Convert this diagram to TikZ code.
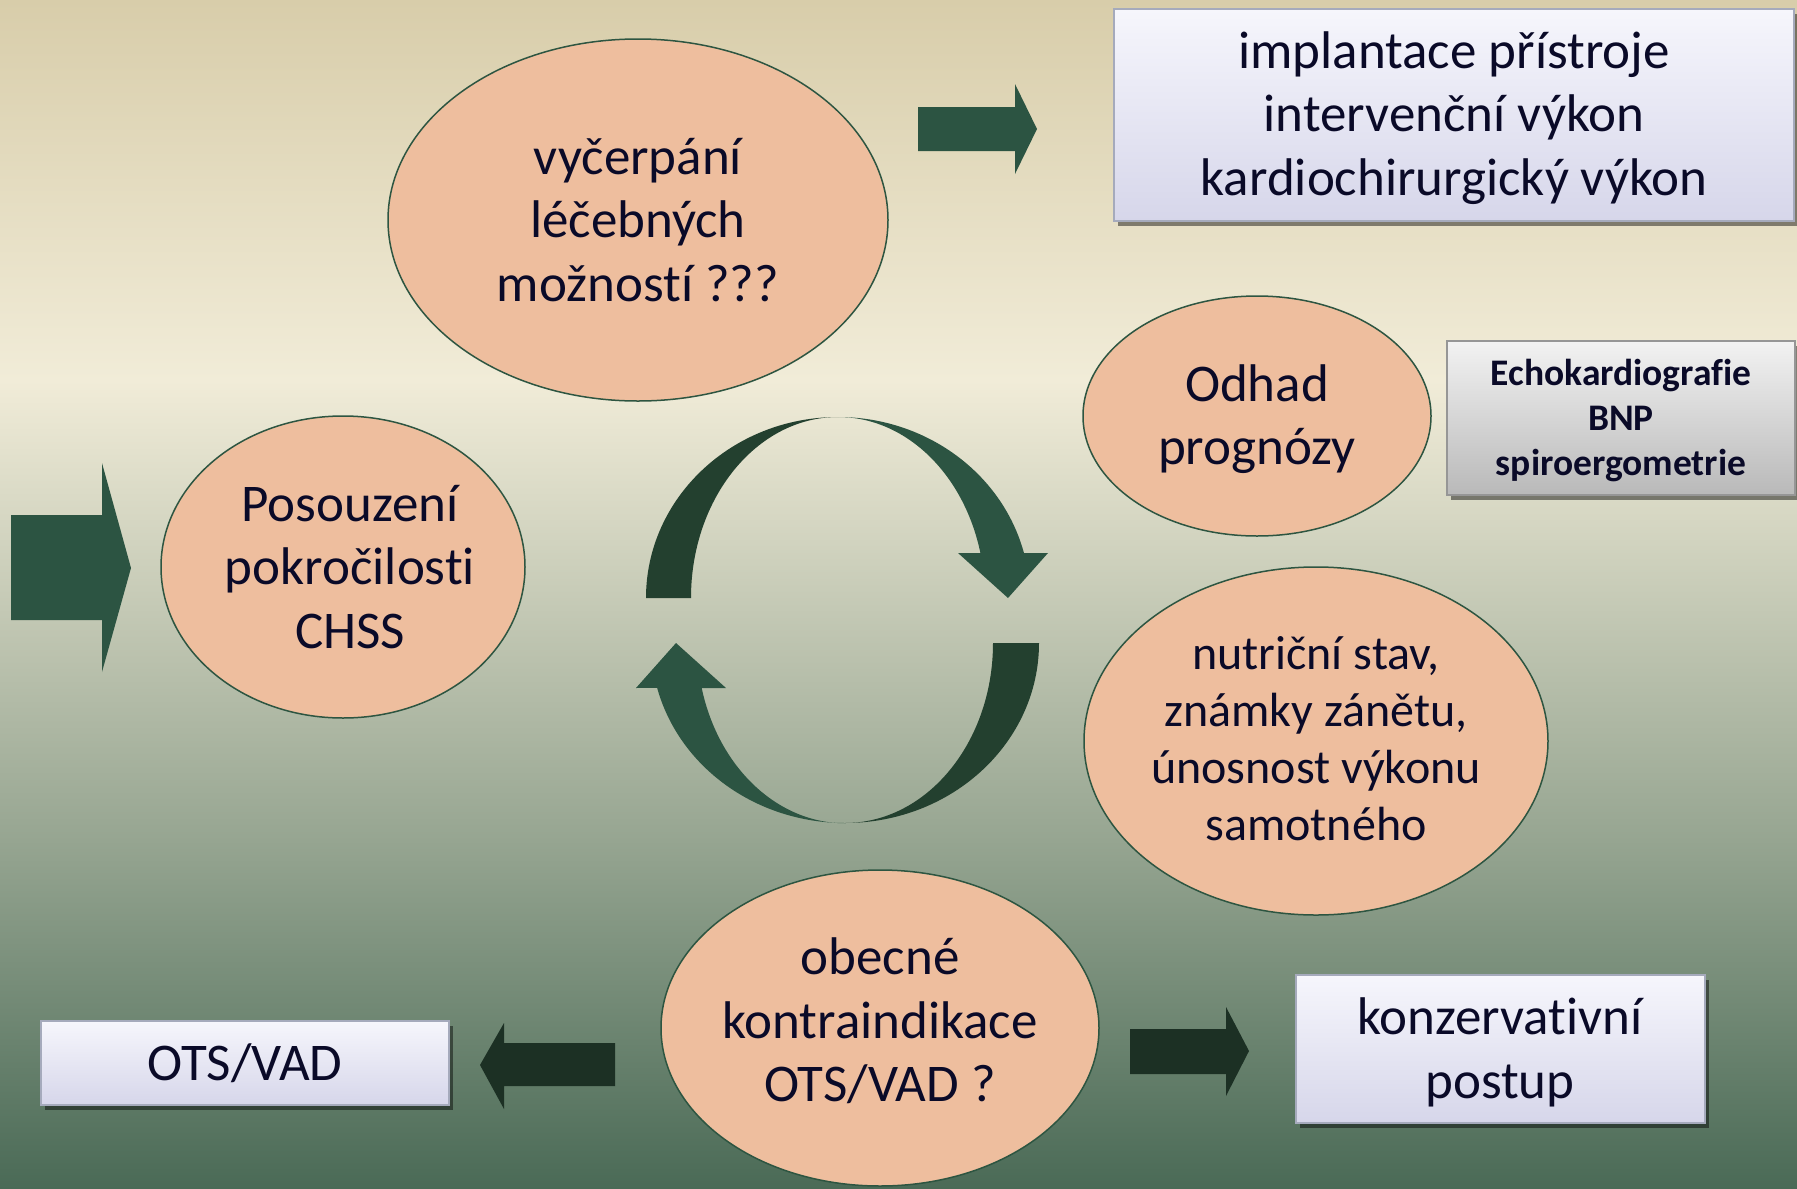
\documentclass[tikz,border=0pt]{standalone}
\usepackage{fontspec}
\setmainfont{Carlito}[Ligatures=CommonOff]
\usetikzlibrary{shapes.geometric,shadows}
\definecolor{bgtan}{RGB}{216,205,170}
\definecolor{bgcream}{RGB}{241,236,216}
\definecolor{bgmid}{RGB}{150,165,145}
\definecolor{bgdark}{RGB}{74,106,86}
\definecolor{peach}{RGB}{238,190,158}
\definecolor{elline}{RGB}{45,85,65}
\definecolor{arrlight}{RGB}{44,84,66}
\definecolor{arrdark}{RGB}{35,64,47}
\definecolor{arrblack}{RGB}{28,48,36}
\definecolor{boxtop}{RGB}{246,246,252}
\definecolor{boxbot}{RGB}{214,214,234}
\definecolor{boxline}{RGB}{165,170,188}
\definecolor{navy}{RGB}{10,10,40}
\definecolor{greytop}{RGB}{242,242,242}
\definecolor{greybot}{RGB}{185,185,185}
\definecolor{greyline}{RGB}{150,150,150}
\newcommand{\shiftv}[2]{\raisebox{#1}[\height][\depth]{\begin{tabular}{@{}c@{}}#2\end{tabular}}}
\begin{document}
\begin{tikzpicture}[x=1pt,y=-1pt,
  bubble/.style={ellipse, draw=elline, line width=1.5pt, fill=peach, inner sep=-60pt,
    align=center, font=\fontsize{53}{63.5}\selectfont, text=navy},
  panel/.style={rectangle, draw=boxline, line width=2pt, top color=boxtop, bottom color=boxbot,
    inner sep=0pt, align=center, font=\fontsize{53}{63.5}\selectfont, text=navy,
    drop shadow={shadow xshift=4pt, shadow yshift=-5pt, opacity=0.45, fill=black}},
  greypanel/.style={panel, draw=greyline, top color=greytop, bottom color=greybot,
    font=\fontsize{37.5}{45}\selectfont\bfseries},
  blockarrow/.style={fill=arrlight, draw=none},
  blockdark/.style={fill=arrblack, draw=none}
]
\useasboundingbox (0,0) rectangle (1797,1189);
% background
\shade[top color=bgtan, bottom color=bgcream] (0,0) rectangle (1797,381);
\shade[top color=bgcream, bottom color=bgmid] (0,380) rectangle (1797,841);
\shade[top color=bgmid, bottom color=bgdark] (0,840) rectangle (1797,1189);

% ellipses
\node[bubble, minimum width=500, minimum height=362] (vycerpani) at (638,220)
  {vyčerpání\\léčebných\\možností ???};
\node[bubble, minimum width=348, minimum height=240] (odhad) at (1257,416)
  {\shiftv{-4.3pt}{Odhad\\prognózy}};
\node[bubble, minimum width=364, minimum height=302] (posouzeni) at (343,567)
  {\hspace*{14pt}Posouzení\\\hspace*{14pt}pokročilosti\\\hspace*{14pt}CHSS};
\node[bubble, minimum width=464, minimum height=348, font=\fontsize{48}{57}\selectfont] (nutricni) at (1316,741)
  {\shiftv{-2.1pt}{nutriční stav,\\známky zánětu,\\únosnost výkonu\\samotného}};
\node[bubble, minimum width=438, minimum height=316] (obecne) at (880,1028)
  {\shiftv{2.4pt}{obecné\\kontraindikace\\OTS/VAD ?}};

% boxes
\node[panel, minimum width=680, minimum height=212] (implantace) at (1454,115)
  {\shiftv{-4pt}{implantace přístroje\\intervenční výkon\\kardiochirurgický výkon}};
\node[greypanel, minimum width=348, minimum height=154] (echo) at (1621,418)
  {\shiftv{-3.5pt}{Echokardiografie\\BNP\\spiroergometrie}};
\node[panel, minimum width=408, minimum height=84] (ots) at (245,1063) {OTS/VAD};
\node[panel, minimum width=409, minimum height=148] (konz) at (1500,1049)
  {\shiftv{-5pt}{konzervativní\\postup}};

% block arrows
\fill[blockarrow] (918,107) -- (1015,107) -- (1015,84) -- (1037,129) -- (1015,174)
  -- (1015,151) -- (918,151) -- cycle;
\fill[blockarrow] (11,515) -- (102,515) -- (102,463) -- (131,568) -- (102,672)
  -- (102,620) -- (11,620) -- cycle;
\fill[blockdark] (615,1043) -- (504,1043) -- (504,1023) -- (480,1065) -- (504,1109)
  -- (504,1086) -- (615,1086) -- cycle;
\fill[blockdark] (1130,1029) -- (1226,1029) -- (1226,1007) -- (1249,1051) -- (1226,1096)
  -- (1226,1074) -- (1130,1074) -- cycle;

% circular arrows - upper
\fill[arrdark] (646,598) arc[start angle=180, end angle=270, x radius=192, y radius=181]
  arc[start angle=270, end angle=180, x radius=147, y radius=181] -- cycle;
\fill[arrlight] (838,417) arc[start angle=270, end angle=345.6, x radius=192, y radius=181]
  -- (1048,553) -- (1008,598) -- (958,553) -- (980.4,553)
  arc[start angle=345.6, end angle=270, x radius=147, y radius=181] -- cycle;
% circular arrows - lower
\fill[arrdark] (1039,643) arc[start angle=0, end angle=90, x radius=194, y radius=180]
  arc[start angle=90, end angle=0, x radius=148, y radius=180] -- cycle;
\fill[arrlight] (845,823) arc[start angle=90, end angle=165.6, x radius=194, y radius=180]
  -- (636,688) -- (676,643) -- (726,688) -- (701.7,688)
  arc[start angle=165.6, end angle=90, x radius=148, y radius=180] -- cycle;
\end{tikzpicture}
\end{document}
